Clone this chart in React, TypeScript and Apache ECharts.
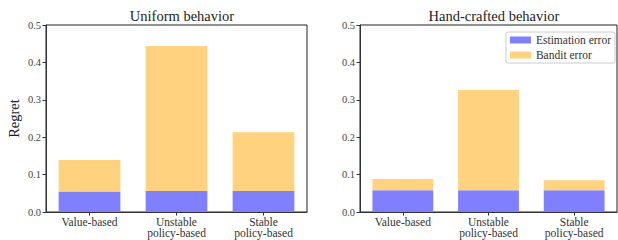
import React, { useEffect, useRef } from "react";
import * as echarts from "echarts";

const categories = ["Value-based", "Unstable\npolicy-based", "Stable\npolicy-based"];
const panelTitles = ["Uniform behavior", "Hand-crafted behavior"];
const uniformEstimation = [0.055, 0.056, 0.056];
const uniformBandit = [0.084, 0.388, 0.157];
const handEstimation = [0.058, 0.058, 0.058];
const handBandit = [0.030, 0.268, 0.027];
const yTicks = [0, 0.1, 0.2, 0.3, 0.4, 0.5];
const seriesNames = ["Estimation error", "Bandit error"];

const BLUE = "#8080ff";
const ORANGE = "#ffd280";
const FONT = "'Liberation Serif', 'DejaVu Serif', serif";

export default function App() {
  const ref = useRef<HTMLDivElement>(null);
  useEffect(() => {
    document.body.style.margin = "0";
    const chart = echarts.init(ref.current!, undefined, { renderer: "svg" });
    const xAxis = (gi: number) => ({
      type: "category",
      gridIndex: gi,
      data: categories,
      axisLine: { show: true, lineStyle: { color: "#333", width: 1 } },
      axisTick: { show: true, alignWithLabel: true, length: 3.5, lineStyle: { color: "#333" } },
      axisLabel: {
        fontFamily: FONT,
        fontSize: 11.5,
        color: "#333",
        lineHeight: 11,
        margin: 4,
        interval: 0,
      },
    });
    const yAxis = (gi: number, name: string) => ({
      type: "value",
      gridIndex: gi,
      min: 0,
      max: yTicks[yTicks.length - 1],
      interval: 0.1,
      name,
      nameLocation: "middle",
      nameGap: 25,
      nameRotate: 90,
      nameTextStyle: { fontFamily: FONT, fontSize: 14.5, color: "#222" },
      splitLine: { show: false },
      axisLine: { show: true, lineStyle: { color: "#333", width: 1 } },
      axisTick: { show: true, length: 3.5, lineStyle: { color: "#333" } },
      axisLabel: {
        fontFamily: FONT,
        fontSize: 10.5,
        color: "#444",
        margin: 5,
        formatter: (v: number) => v.toFixed(1),
      },
    });
    const bar = (gi: number, name: string, data: number[], color: string) => ({
      type: "bar",
      name,
      xAxisIndex: gi,
      yAxisIndex: gi,
      stack: "s" + gi,
      data,
      barWidth: "71%",
      itemStyle: { color },
      emphasis: { disabled: true },
    });
    const titleStyle = { fontFamily: FONT, fontSize: 14.5, fontWeight: "normal", color: "#222" };
    chart.setOption({
      animation: false,
      title: [
        { text: panelTitles[0], left: 177, top: 3, textAlign: "center", textStyle: titleStyle },
        { text: panelTitles[1], left: 489, top: 3, textAlign: "center", textStyle: titleStyle },
      ],
      legend: {
        data: seriesNames.map((n) => ({ name: n })),
        orient: "vertical",
        right: 3,
        top: 32,
        itemWidth: 21,
        itemHeight: 7,
        itemGap: 3,
        padding: [2, 4, 2, 4],
        borderColor: "#ccc",
        borderWidth: 1,
        borderRadius: 2,
        backgroundColor: "#fff",
        textStyle: { fontFamily: FONT, fontSize: 11.5, color: "#333" },
        icon: "rect",
      },
      grid: [
        { left: 46, right: 311, top: 25, bottom: 28, show: true, borderColor: "#222", borderWidth: 1 },
        { left: 360, right: 1, top: 25, bottom: 28, show: true, borderColor: "#222", borderWidth: 1 },
      ],
      xAxis: [xAxis(0), xAxis(1)],
      yAxis: [yAxis(0, "Regret"), yAxis(1, "")],
      series: [
        bar(0, seriesNames[0], uniformEstimation, BLUE),
        bar(0, seriesNames[1], uniformBandit, ORANGE),
        bar(1, seriesNames[0], handEstimation, BLUE),
        bar(1, seriesNames[1], handBandit, ORANGE),
      ],
    });
    return () => chart.dispose();
  }, []);
  return <div ref={ref} style={{ width: 618, height: 240 }} />;
}
